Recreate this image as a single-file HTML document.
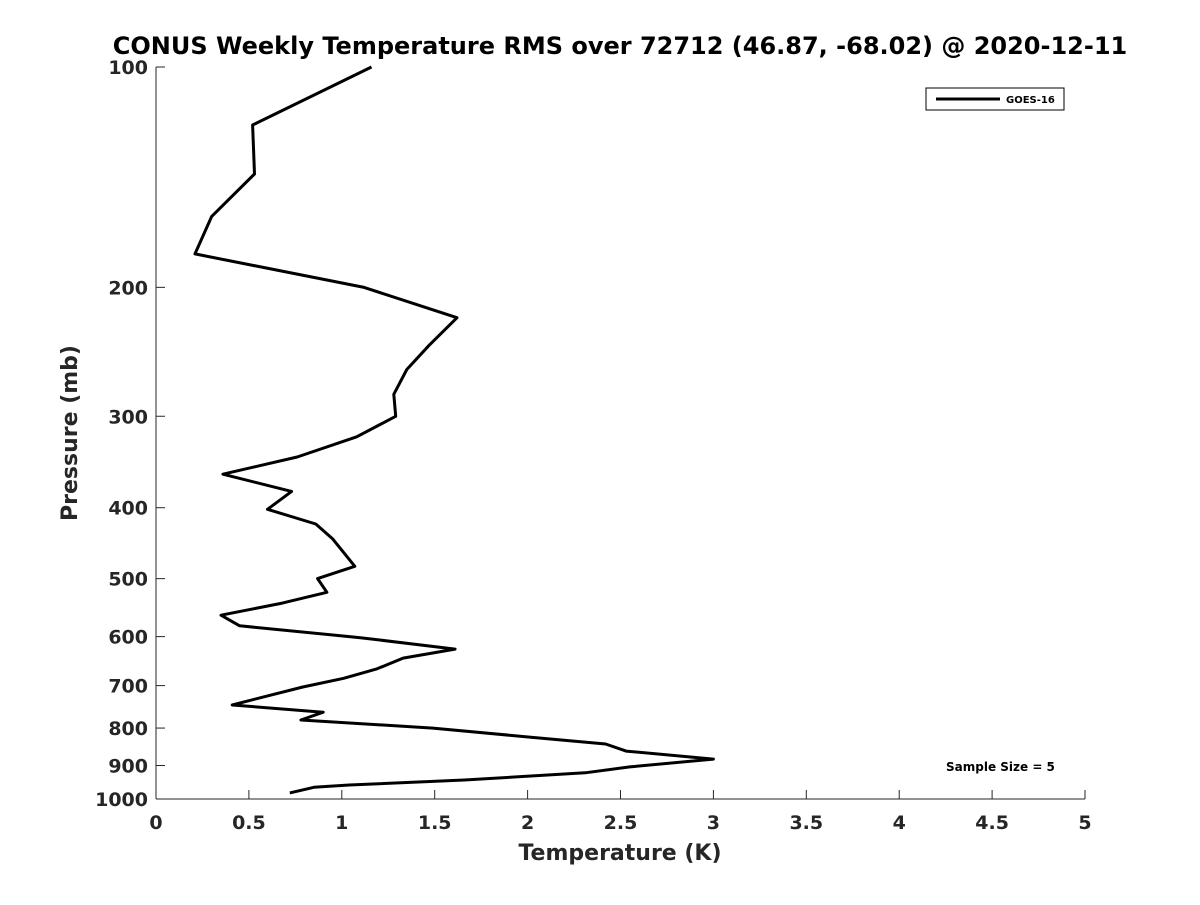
<!DOCTYPE html>
<html><head><meta charset="utf-8"><style>
body{margin:0;background:#fff;font-family:"Liberation Sans",sans-serif;}
svg text{font-family:"DejaVu Sans","Liberation Sans",sans-serif;font-weight:bold;fill:#262626;}
</style></head><body>
<svg id="chart" width="1200" height="900" xmlns="http://www.w3.org/2000/svg">
<rect width="1200" height="900" fill="#fff"/>
<text x="620" y="54" text-anchor="middle" font-size="24" style="fill:#000">CONUS Weekly Temperature RMS over 72712 (46.87, -68.02) @ 2020-12-11</text>
<g id="axes"></g>
<polyline id="line" fill="none" stroke="#000" stroke-width="3" stroke-linejoin="round"/>
<g>
<rect x="926" y="88" width="138" height="22" fill="#fff" stroke="#000" stroke-width="1"/>
<line x1="936" y1="99" x2="1000" y2="99" stroke="#000" stroke-width="3"/>
<text x="1006" y="103" font-size="10" style="fill:#000">GOES-16</text>
</g>
<text x="946" y="771" font-size="12" style="fill:#000">Sample Size = 5</text>
<text x="620" y="860" text-anchor="middle" font-size="22">Temperature (K)</text>
<text transform="translate(77,433) rotate(-90)" text-anchor="middle" font-size="22">Pressure (mb)</text>
</svg>
<script>
const temps=[1.16,0.52,0.53,0.30,0.21,1.12,1.62,1.47,1.35,1.28,1.29,1.08,0.76,0.36,0.73,0.60,0.86,0.95,1.07,0.87,0.92,0.68,0.35,0.45,1.10,1.61,1.33,1.19,1.01,0.79,0.60,0.41,0.90,0.78,1.49,2.01,2.42,2.53,3.00,2.55,2.31,1.66,1.04,0.85,0.72];
const pressures=[100,120,140,160,180,200,220,240,259,280,300,320,341,360,380,402,421,441,481,500,522,540,561,580,602,624,642,664,684,703,723,744,761,780,800,823,841,860,882,904,921,942,957,964,981];
const xTicks=[0,0.5,1,1.5,2,2.5,3,3.5,4,4.5,5];
const xTickLabels=["0","0.5","1","1.5","2","2.5","3","3.5","4","4.5","5"];
const yTicks=[100,200,300,400,500,600,700,800,900,1000];
const L=156,R=1085,T=67,B=799;
const xs=v=>L+(v-0)/5*(R-L);
const ys=p=>T+Math.log10(p/100)*(B-T);
const NS="http://www.w3.org/2000/svg";
const ax=document.getElementById('axes');
function mk(tag,attrs){const e=document.createElementNS(NS,tag);for(const k in attrs)e.setAttribute(k,attrs[k]);ax.appendChild(e);return e;}
let e=mk('line',{x1:L,y1:T,x2:L,y2:B,stroke:'#262626','stroke-width':1});


e=mk('line',{x1:L,y1:B,x2:R,y2:B,stroke:'#262626','stroke-width':1});


xTicks.forEach((v,i)=>{
 const t=mk('line',{x1:xs(v),y1:B,x2:xs(v),y2:B-9,stroke:'#262626'});
 
 
 const lb=mk('text',{x:xs(v),y:B+30,'text-anchor':'middle','font-size':19});
 lb.textContent=xTickLabels[i];
 
 
});
yTicks.forEach(p=>{
 const t=mk('line',{x1:L,y1:ys(p),x2:L+9,y2:ys(p),stroke:'#262626'});
 
 
 const lb=mk('text',{x:L-8,y:ys(p)+7,'text-anchor':'end','font-size':19});
 lb.textContent=String(p);
 
 
});
document.getElementById('line').setAttribute('points',temps.map((t,i)=>xs(t).toFixed(1)+','+ys(pressures[i]).toFixed(1)).join(' '));
</script>
</body></html>
